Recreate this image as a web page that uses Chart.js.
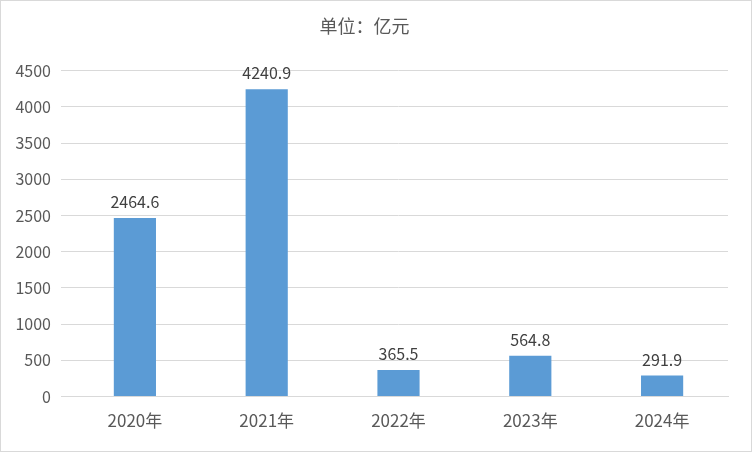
<!DOCTYPE html>
<html>
<head>
<meta charset="utf-8">
<script src="https://cdn.jsdelivr.net/npm/chart.js@4"></script>
<style>
  body { margin: 0; background: #fff; }
  #wrap { width: 750px; height: 450px; border: 1px solid #d9d9d9; }
</style>
</head>
<body>
<div id="wrap"><canvas id="c" width="750" height="450"></canvas></div>
<script>
const categories = ["2020年", "2021年", "2022年", "2023年", "2024年"];
const values = [2464.6, 4240.9, 365.5, 564.8, 291.9];
const yTicks = [0, 500, 1000, 1500, 2000, 2500, 3000, 3500, 4000, 4500];

const FONT = "'Microsoft YaHei', 'Noto Sans CJK SC', sans-serif";

// labels above bars
const valueLabels = {
    id: "valueLabels",
    afterDatasetsDraw(chart) {
        const ctx = chart.ctx;
        const meta = chart.getDatasetMeta(0);
        ctx.save();
        ctx.font = "16px " + FONT;
        ctx.fillStyle = "#404040";
        ctx.textAlign = "center";
        ctx.textBaseline = "bottom";
        meta.data.forEach((bar, i) => {
            ctx.fillText(values[i].toFixed(1), bar.x, bar.y - 8);
        });
        ctx.restore();
    }
};

new Chart(document.getElementById("c"), {
    type: "bar",
    data: {
        labels: categories,
        datasets: [{
            data: values,
            backgroundColor: "#5B9BD5",
            barPercentage: 0.32,
            categoryPercentage: 1
        }]
    },
    options: {
        responsive: false,
        animation: false,
        layout: { padding: { top: 6, right: 23, left: 0, bottom: 14 } },
        plugins: {
            legend: { display: false },
            tooltip: { enabled: false },
            title: {
                display: true,
                text: "单位：亿元",
                color: "#595959",
                font: { size: 18, family: FONT, weight: "normal" },
                padding: { top: 8, bottom: 34 }
            }
        },
        scales: {
            x: {
                grid: { display: false },
                border: { color: "#d9d9d9" },
                ticks: { color: "#595959", font: { size: 17, family: FONT }, padding: 6 }
            },
            y: {
                min: 0,
                max: 4500,
                afterFit(scale) { scale.width = 68; },
                afterBuildTicks(scale) { scale.ticks = yTicks.map(v => ({ value: v })); },
                grid: { color: "#d9d9d9" },
                border: { display: false },
                ticks: {
                    color: "#595959",
                    font: { size: 16, family: FONT },
                    padding: 10,
                    callback: v => String(v)
                }
            }
        }
    },
    plugins: [valueLabels]
});
</script>
</body>
</html>
